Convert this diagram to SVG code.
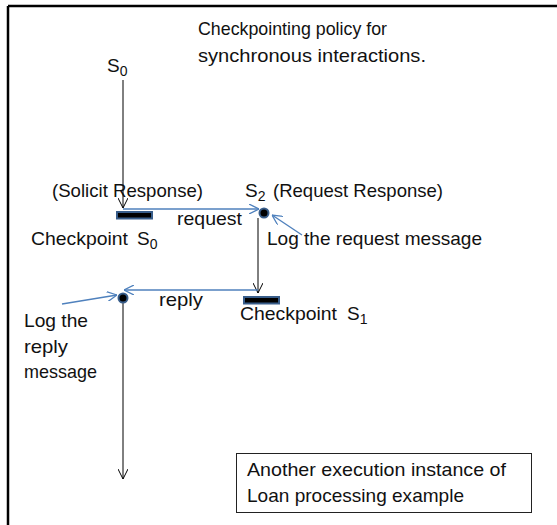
<svg xmlns="http://www.w3.org/2000/svg" width="557" height="525" viewBox="0 0 557 525">
<style>
text{font-family:"Liberation Sans",Arial,sans-serif;font-size:19px;fill:#111}
.sub{font-size:14px}
.blk{stroke:#000;stroke-width:1;fill:none}
.blu{stroke:#4f81bd;stroke-width:1.3;fill:none}
.bar{fill:#000;stroke:#385d8a;stroke-width:2}
.dot{fill:#000;stroke:#385d8a;stroke-width:2}
</style>
<defs>
<marker id="ab" viewBox="0 0 10 10" refX="10" refY="5" markerWidth="10" markerHeight="10" markerUnits="userSpaceOnUse" orient="auto">
<path d="M0,0 L10,5 L0,10" fill="none" stroke="#000" stroke-width="1"/>
</marker>
<marker id="au" viewBox="0 0 10 10" refX="10" refY="5" markerWidth="10" markerHeight="10" markerUnits="userSpaceOnUse" orient="auto">
<path d="M0,0 L10,5 L0,10" fill="none" stroke="#4f81bd" stroke-width="1.3"/>
</marker>
</defs>
<rect width="557" height="525" fill="#fff"/>
<g id="frame">
<line x1="8" y1="6" x2="557" y2="6" stroke="#000" stroke-width="2.5"/>
<line x1="8" y1="6" x2="8" y2="525" stroke="#000" stroke-width="2.5"/>
</g>
<g id="title">
<text x="198" y="35" textLength="189" lengthAdjust="spacingAndGlyphs">Checkpointing policy  for</text>
<text x="198" y="62" textLength="228" lengthAdjust="spacingAndGlyphs">synchronous interactions.</text>
</g>
<g id="s0-label"><text x="107" y="72">S<tspan class="sub" dy="4">0</tspan></text></g>
<g id="connectors">
<line class="blk" x1="123" y1="80" x2="123" y2="208" marker-end="url(#ab)"/>
<line class="blu" x1="123" y1="209" x2="259" y2="209" marker-end="url(#au)"/>
<line class="blu" x1="302" y1="235" x2="272" y2="215" marker-end="url(#au)"/>
<line class="blk" x1="258" y1="218" x2="258" y2="293" marker-end="url(#ab)"/>
<line class="blu" x1="258" y1="290" x2="124" y2="290" marker-end="url(#au)"/>
<line class="blu" x1="62" y1="304" x2="117" y2="295" marker-end="url(#au)"/>
<line class="blk" x1="123" y1="303" x2="123" y2="479" marker-end="url(#ab)"/>
</g>
<g id="checkpoint-s0">
<rect class="bar" x="117" y="212" width="35" height="6.5"/>
<text x="31" y="245" textLength="97" lengthAdjust="spacingAndGlyphs">Checkpoint</text>
<text x="137" y="245">S<tspan class="sub" dy="4">0</tspan></text>
</g>
<g id="solicit"><text x="52" y="197" textLength="151" lengthAdjust="spacingAndGlyphs">(Solicit Response)</text></g>
<g id="request-label"><text x="177" y="225" textLength="65" lengthAdjust="spacingAndGlyphs">request</text></g>
<g id="s2">
<circle class="dot" cx="264" cy="213" r="4.5"/>
<text x="245" y="197">S<tspan class="sub" dy="4">2</tspan></text>
<text x="273" y="197" textLength="170" lengthAdjust="spacingAndGlyphs">(Request Response)</text>
</g>
<g id="log-request"><text x="267" y="245" textLength="215" lengthAdjust="spacingAndGlyphs">Log the request message</text></g>
<g id="reply-label"><text x="159" y="306" textLength="44" lengthAdjust="spacingAndGlyphs">reply</text></g>
<g id="checkpoint-s1">
<rect class="bar" x="244" y="297" width="35" height="6.5"/>
<text x="240" y="320" textLength="97" lengthAdjust="spacingAndGlyphs">Checkpoint</text>
<text x="347" y="320">S<tspan class="sub" dy="4">1</tspan></text>
</g>
<g id="reply-dot"><circle class="dot" cx="123" cy="298" r="4.5"/></g>
<g id="log-reply">
<text x="24" y="327" textLength="64" lengthAdjust="spacingAndGlyphs">Log the</text>
<text x="24" y="353" textLength="44" lengthAdjust="spacingAndGlyphs">reply</text>
<text x="24" y="378" textLength="73" lengthAdjust="spacingAndGlyphs">message</text>
</g>
<g id="note">
<rect x="236.5" y="453.5" width="295" height="59" fill="#fff" stroke="#222" stroke-width="1"/>
<text x="247" y="476" textLength="259" lengthAdjust="spacingAndGlyphs">Another execution instance of</text>
<text x="247" y="502" textLength="217" lengthAdjust="spacingAndGlyphs">Loan processing example</text>
</g>
</svg>
